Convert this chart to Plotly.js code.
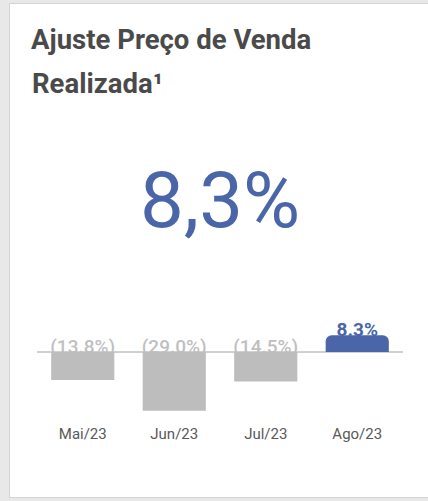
<!DOCTYPE html>
<html>
<head>
<meta charset="utf-8">
<script src="https://cdn.plot.ly/plotly-3.0.1.min.js"></script>
<style>
  html, body { margin:0; padding:0; width:428px; height:501px; overflow:hidden; background:#e8e8e8; }
  #card { position:absolute; left:9px; top:3px; width:440px; height:493px; background:#ffffff; border:1px solid #d4d4d4; }
  #chart { position:absolute; left:0; top:0; width:428px; height:501px; }
</style>
</head>
<body>
<div id="card"></div>
<div id="chart"></div>
<script>
// ---- data ----
const categories = ['Mai/23', 'Jun/23', 'Jul/23', 'Ago/23'];
const values = [-13.8, -29.0, -14.5, 8.3];
const labels = ['(13.8%)', '(29.0%)', '(14.5%)', '8.3%'];
const headline = '8,3%';
const titleLine1 = 'Ajuste Preço de Venda';
const titleLine2 = 'Realizada¹';

// ---- styles ----
const BLUE = '#4a66a9';
const GRAY_BAR = '#bdbdbd';
const GRAY_LABEL = '#bfbfbf';
const FONT = 'Roboto, Arial, sans-serif';
const LABEL_PAD = 1.8; // axis units above bar end

const isPos = values.map(v => v >= 0);
const pick = (arr, cond) => arr.filter((_, i) => cond(i));

const traces = [
  // labels (drawn under the bars, on the main subplot)
  {
    type: 'scatter', mode: 'text', xaxis: 'x', yaxis: 'y',
    x: pick(categories, i => !isPos[i]),
    y: pick(values, i => !isPos[i]).map(v => Math.max(v, 0) + LABEL_PAD),
    text: pick(labels, i => !isPos[i]),
    textposition: 'middle center',
    textfont: { family: FONT, size: 19, color: GRAY_LABEL, weight: 500 },
    hoverinfo: 'skip', showlegend: false, cliponaxis: false
  },
  {
    type: 'scatter', mode: 'text', xaxis: 'x', yaxis: 'y',
    x: pick(categories, i => isPos[i]),
    y: pick(values, i => isPos[i]).map(v => Math.max(v, 0) + LABEL_PAD),
    text: pick(labels, i => isPos[i]),
    textposition: 'middle center',
    textfont: { family: FONT, size: 19, color: BLUE, weight: 'bold' },
    hoverinfo: 'skip', showlegend: false, cliponaxis: false
  },
  // bars (overlay subplot drawn above the labels)
  {
    type: 'bar', xaxis: 'x', yaxis: 'y2',
    x: pick(categories, i => !isPos[i]),
    y: pick(values, i => !isPos[i]),
    marker: { color: GRAY_BAR, line: { width: 0 } },
    hoverinfo: 'skip', showlegend: false
  },
  {
    type: 'bar', xaxis: 'x', yaxis: 'y2',
    x: pick(categories, i => isPos[i]),
    y: pick(values, i => isPos[i]),
    marker: { color: BLUE, line: { width: 0 }, cornerradius: 6 },
    hoverinfo: 'skip', showlegend: false
  }
];

const yRange = [-33.5, 25.6];

const layout = {
  width: 428, height: 501,
  paper_bgcolor: 'rgba(0,0,0,0)',
  plot_bgcolor: 'rgba(0,0,0,0)',
  margin: { l: 37, r: 25, t: 300, b: 81 },
  barmode: 'overlay',
  bargap: 0.31,
  showlegend: false,
  title: {
    text: titleLine1,
    font: { family: FONT, size: 27.5, color: '#4a4a4a', weight: 'bold' },
    xref: 'container', yref: 'container',
    x: 31 / 428, xanchor: 'left',
    y: 1 - 30 / 501, yanchor: 'top'
  },
  xaxis: {
    categoryorder: 'array', categoryarray: categories,
    showgrid: false, zeroline: false, showline: false, ticks: '',
    tickfont: { family: FONT, size: 15, color: '#595959' },
    ticklabelstandoff: 3,
    fixedrange: true
  },
  yaxis: {
    range: yRange, showgrid: false, showticklabels: false, ticks: '',
    zeroline: true, zerolinecolor: '#d0d0d0', zerolinewidth: 2,
    fixedrange: true
  },
  yaxis2: {
    range: yRange, overlaying: 'y', visible: false, showgrid: false,
    zeroline: false, fixedrange: true
  },
  annotations: [
    {
      text: titleLine2, xref: 'paper', yref: 'paper',
      x: (30 - 37) / 366, xanchor: 'left',
      y: (420 - 83.5) / 120, yanchor: 'middle',
      showarrow: false,
      font: { family: FONT, size: 27.5, color: '#4a4a4a', weight: 'bold' }
    },
    {
      text: headline, xref: 'paper', yref: 'paper',
      x: (219.5 - 37) / 366, xanchor: 'center',
      y: (420 - 200) / 120, yanchor: 'middle',
      showarrow: false,
      font: { family: FONT, size: 78, color: BLUE }
    }
  ]
};

Plotly.newPlot('chart', traces, layout, { staticPlot: true, displayModeBar: false });
</script>
</body>
</html>
